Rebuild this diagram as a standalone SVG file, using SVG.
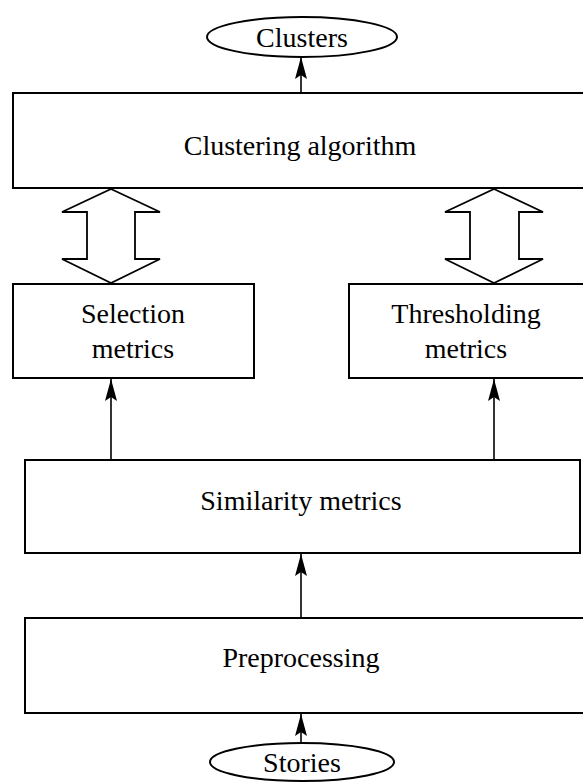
<svg xmlns="http://www.w3.org/2000/svg" width="583" height="782" viewBox="0 0 583 782">
<style>
.box{fill:#fff;stroke:#000;stroke-width:2}
.dbl{fill:#fff;stroke:#000;stroke-width:1.8;stroke-linejoin:miter}
.lbl{font-family:"Liberation Serif","Times New Roman",serif;font-size:28px;fill:#000;text-anchor:middle}
.con{stroke:#000;stroke-width:1.6;fill:none}
</style>
<defs>
<marker id="ah" viewBox="0 0 22 12" refX="22" refY="6" markerWidth="22" markerHeight="12" markerUnits="userSpaceOnUse" orient="auto">
<path d="M0,0 L22,6 L0,12 L4,6 Z" fill="#000"/>
</marker>
</defs>
<g id="clusters">
<ellipse cx="302" cy="37" rx="95" ry="20" class="box"/>
<text x="302" y="47" class="lbl">Clusters</text>
</g>
<g id="clustering">
<rect x="13" y="93" width="572" height="95" class="box"/>
<text x="300" y="155" class="lbl">Clustering algorithm</text>
</g>
<g id="selection">
<rect x="13" y="284" width="241" height="94" class="box"/>
<text x="133" y="323" class="lbl">Selection</text>
<text x="133" y="358" class="lbl">metrics</text>
</g>
<g id="thresholding">
<rect x="349" y="284" width="236" height="94" class="box"/>
<text x="466" y="323" class="lbl">Thresholding</text>
<text x="466" y="358" class="lbl">metrics</text>
</g>
<g id="similarity">
<rect x="25" y="460" width="555" height="93" class="box"/>
<text x="301" y="510" class="lbl">Similarity metrics</text>
</g>
<g id="preprocessing">
<rect x="25" y="618" width="560" height="95" class="box"/>
<text x="301" y="667" class="lbl">Preprocessing</text>
</g>
<g id="stories">
<ellipse cx="302" cy="762" rx="92" ry="19" class="box"/>
<text x="302" y="772" class="lbl">Stories</text>
</g>
<g id="connectors">
<path class="dbl" d="M111,189 L160,212 L135,212 L135,259 L160,259 L111,283 L62,259 L87,259 L87,212 L62,212 Z"/>
<path class="dbl" d="M494,189 L543,212 L519,212 L519,259 L543,259 L494,283 L445,259 L470,259 L470,212 L445,212 Z"/>
<line class="con" x1="301" y1="93" x2="301" y2="57" marker-end="url(#ah)"/>
<line class="con" x1="111" y1="460" x2="111" y2="379" marker-end="url(#ah)"/>
<line class="con" x1="494" y1="460" x2="494" y2="379" marker-end="url(#ah)"/>
<line class="con" x1="301" y1="618" x2="301" y2="554" marker-end="url(#ah)"/>
<line class="con" x1="301" y1="743" x2="301" y2="714" marker-end="url(#ah)"/>
</g>
</svg>
